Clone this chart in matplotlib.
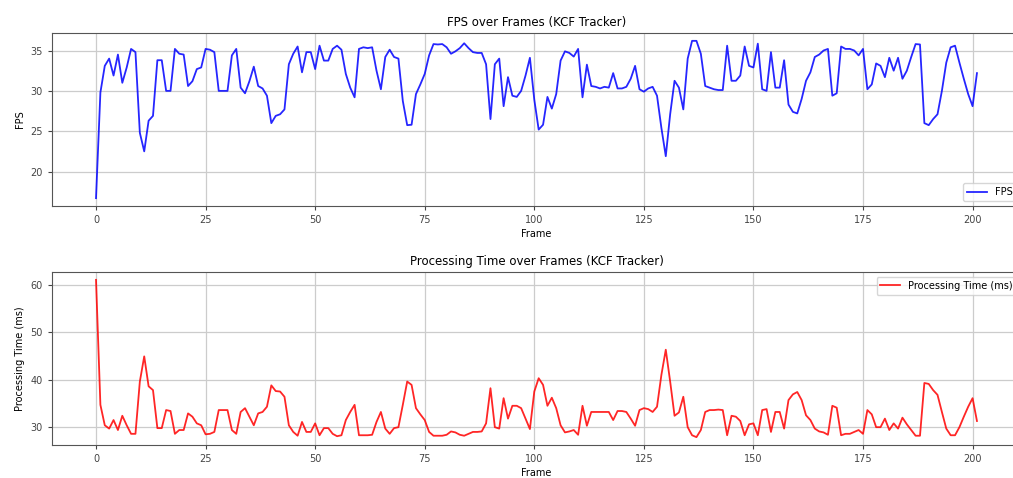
import numpy as np
import matplotlib.pyplot as plt
from matplotlib.ticker import MultipleLocator

# Per-frame measurements from the KCF tracker run
fps = [16.7, 29.8, 33.1, 34.0, 31.9, 34.5, 31.0, 32.9, 35.2, 34.8,
       24.8, 22.5, 26.3, 26.9, 33.8, 33.8, 30.0, 30.0, 35.2, 34.6,
       34.5, 30.6, 31.2, 32.7, 32.9, 35.2, 35.1, 34.8, 30.0, 30.0,
       30.0, 34.4, 35.2, 30.4, 29.7, 31.2, 33.0, 30.6, 30.3, 29.4,
       26.0, 26.9, 27.1, 27.7, 33.3, 34.6, 35.5, 32.3, 34.8, 34.8,
       32.7, 35.6, 33.75, 33.75, 35.2, 35.6, 35.1, 32.1, 30.4, 29.2,
       35.2, 35.4, 35.3, 35.4, 32.5, 30.2, 34.2, 35.1, 34.2, 34.0,
       28.75, 25.75, 25.8, 29.6, 30.8, 32.1, 34.4, 35.8, 35.75, 35.8,
       35.4, 34.6, 34.9, 35.3, 35.9, 35.3, 34.8, 34.7, 34.7, 33.3,
       26.5, 33.3, 34.0, 28.1, 31.7, 29.4, 29.25, 30.0, 31.9, 34.1,
       28.9, 25.2, 25.8, 29.25, 27.8, 29.6, 33.75, 34.9, 34.7, 34.25,
       35.2, 29.2, 33.25, 30.6, 30.5, 30.3, 30.5, 30.4, 32.2, 30.3,
       30.3, 30.5, 31.5, 33.1, 30.2, 29.9, 30.3, 30.5, 29.4, 25.4,
       21.9, 27.1, 31.25, 30.4, 27.7, 34.0, 36.2, 36.2, 34.6, 30.6,
       30.4, 30.2, 30.1, 30.1, 35.6, 31.25, 31.25, 31.9, 35.5, 33.1,
       32.9, 35.85, 30.2, 30.0, 34.8, 30.4, 30.4, 33.8, 28.3, 27.4,
       27.2, 29.0, 31.25, 32.3, 34.2, 34.5, 35.0, 35.2, 29.4, 29.7,
       35.5, 35.2, 35.2, 35.0, 34.4, 35.2, 30.2, 30.8, 33.4, 33.1,
       31.7, 34.1, 32.5, 34.1, 31.5, 32.5, 34.2, 35.8, 35.75, 26.0,
       25.75, 26.5, 27.1, 30.0, 33.5, 35.4, 35.6, 33.5, 31.5, 29.6,
       28.1, 32.2]

proc_ms = [61.0, 34.7, 30.4, 29.7, 31.5, 29.4, 32.4, 30.4, 28.6, 28.6,
           39.6, 44.9, 38.6, 37.8, 29.8, 29.8, 33.6, 33.4, 28.6, 29.4,
           29.4, 32.9, 32.2, 30.8, 30.4, 28.5, 28.6, 29.0, 33.6, 33.6,
           33.6, 29.4, 28.6, 33.2, 34.0, 32.2, 30.4, 32.9, 33.2, 34.3,
           38.8, 37.6, 37.5, 36.4, 30.4, 29.0, 28.2, 31.1, 29.0, 29.0,
           30.8, 28.3, 29.8, 29.8, 28.6, 28.1, 28.3, 31.5, 33.2, 34.7,
           28.3, 28.3, 28.3, 28.4, 31.1, 33.2, 29.7, 28.6, 29.8, 30.0,
           34.7, 39.6, 38.9, 34.0, 32.7, 31.5, 29.0, 28.2, 28.2, 28.2,
           28.4, 29.1, 28.9, 28.4, 28.2, 28.6, 29.0, 29.0, 29.1, 30.8,
           38.2, 30.0, 29.7, 36.1, 31.8, 34.5, 34.5, 34.0, 31.8, 29.6,
           37.5, 40.3, 38.9, 34.5, 36.2, 34.0, 30.4, 28.9, 29.1, 29.4,
           28.4, 34.5, 30.3, 33.2, 33.2, 33.2, 33.2, 33.2, 31.5, 33.4,
           33.4, 33.2, 31.8, 30.3, 33.6, 34.0, 33.8, 33.2, 34.3, 41.0,
           46.3, 39.6, 32.4, 33.1, 36.4, 30.0, 28.3, 27.9, 29.4, 33.2,
           33.6, 33.6, 33.7, 33.6, 28.3, 32.4, 32.2, 31.3, 28.3, 30.6,
           30.8, 28.3, 33.6, 33.8, 29.0, 33.2, 33.2, 29.7, 35.7, 36.9,
           37.4, 35.7, 32.5, 31.5, 29.7, 29.1, 28.9, 28.4, 34.5, 34.1,
           28.3, 28.6, 28.6, 29.0, 29.4, 28.6, 33.6, 32.7, 30.0, 30.0,
           31.8, 29.4, 30.8, 29.7, 32.0, 30.6, 29.4, 28.2, 28.2, 39.3,
           39.1, 37.8, 36.8, 33.2, 29.7, 28.3, 28.3, 30.0, 32.2, 34.3,
           36.1, 31.3]

frames = np.arange(len(fps))

fig = plt.figure(figsize=(10.13, 4.78), dpi=100)
# axes run slightly past the right edge of the canvas
ax1 = fig.add_axes([0.0513, 0.569, 0.9566, 0.362])
ax2 = fig.add_axes([0.0513, 0.069, 0.9566, 0.362])

ax1.plot(frames, fps, color="blue", lw=1.3, alpha=0.85, label="FPS")
ax1.set_title("FPS over Frames (KCF Tracker)", fontsize=8.5, pad=5)
ax1.set_xlabel("Frame", fontsize=7, labelpad=3)
ax1.set_ylabel("FPS", fontsize=7, labelpad=4)
ax1.legend(loc="lower right", fontsize=7)

ax2.plot(frames, proc_ms, color="red", lw=1.3, alpha=0.85, label="Processing Time (ms)")
ax2.set_title("Processing Time over Frames (KCF Tracker)", fontsize=8.5, pad=5)
ax2.set_xlabel("Frame", fontsize=7, labelpad=3)
ax2.set_ylabel("Processing Time (ms)", fontsize=7, labelpad=4)
ax2.yaxis.set_major_locator(MultipleLocator(10))
ax2.legend(loc="upper right", fontsize=7)

for ax in (ax1, ax2):
    ax.grid(True, color="#cccccc", lw=0.9)
    ax.tick_params(labelsize=7, colors="#444444", length=3)
    for sp in ax.spines.values():
        sp.set_color("#555555")

fig.savefig("out.png", dpi=100)
